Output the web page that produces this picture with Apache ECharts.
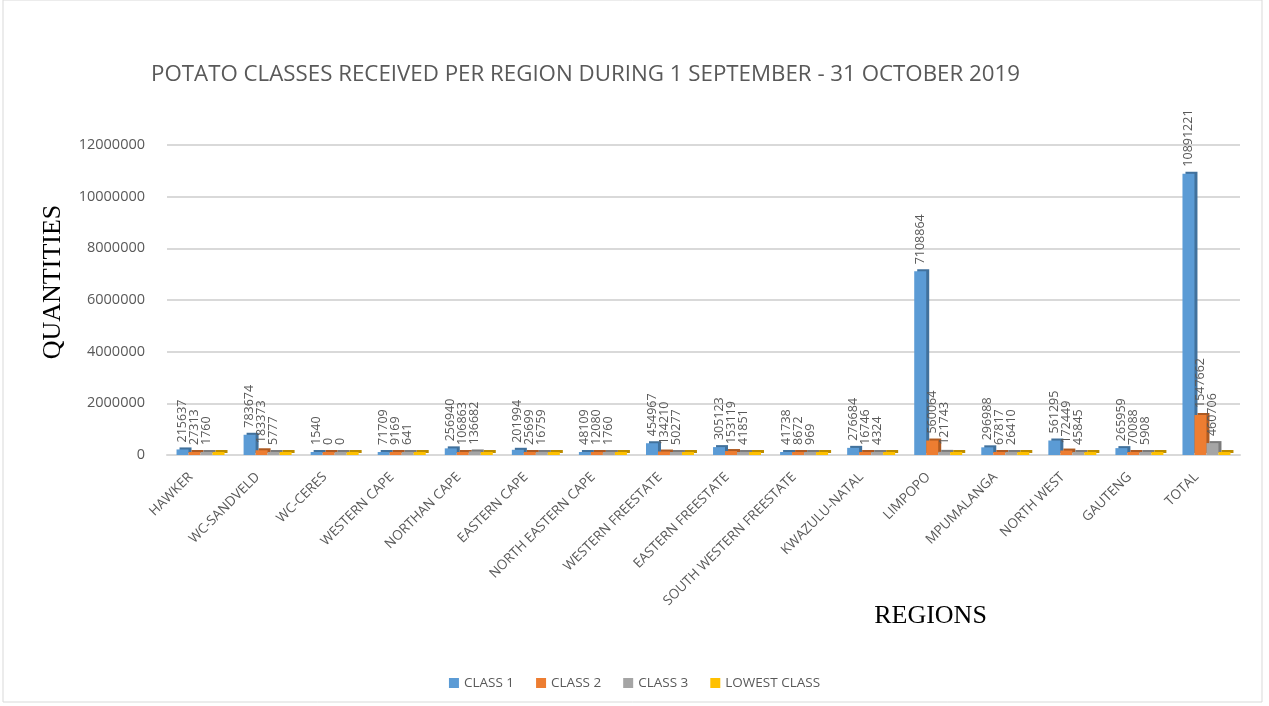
<!DOCTYPE html>
<html>
<head>
<meta charset="utf-8">
<script src="https://cdn.jsdelivr.net/npm/echarts@6/dist/echarts.min.js"></script>
<style>
  html, body { margin: 0; padding: 0; background: #fff; }
  #main { width: 1269px; height: 706px; }
</style>
</head>
<body>
<div id="main"></div>
<script>
const regions = ['HAWKER', 'WC-SANDVELD', 'WC-CERES', 'WESTERN CAPE', 'NORTHAN CAPE', 'EASTERN CAPE',
  'NORTH EASTERN CAPE', 'WESTERN FREESTATE', 'EASTERN FREESTATE', 'SOUTH WESTERN FREESTATE',
  'KWAZULU-NATAL', 'LIMPOPO', 'MPUMALANGA', 'NORTH WEST', 'GAUTENG', 'TOTAL'];
const class1 = [215637, 783674, 1540, 71709, 256940, 201994, 48109, 454967, 305123, 41738, 276684, 7108864, 296988, 561295, 265959, 10891221];
const class2 = [27313, 183373, 0, 9169, 106863, 25699, 12080, 134210, 153119, 8672, 16746, 560064, 67817, 172449, 70088, 1547662];
const class3 = [1760, 5777, 0, 641, 136682, 16759, 1760, 50277, 41851, 969, 4324, 121743, 26410, 45845, 5908, 460706];
// lowest class has no labels in the source, bars are only floor slabs
const lowest = [0, 0, 0, 0, 0, 0, 0, 0, 0, 0, 0, 0, 0, 0, 0, 0];

const chart = echarts.init(document.getElementById('main'));

function barSeries(name, data, color, dark, showLabel) {
  return {
    name: name,
    type: 'bar',
    data: data,
    barWidth: 12,
    barGap: '0%',
    barMinHeight: 3,
    itemStyle: {
      color: color,
      shadowColor: dark,
      shadowOffsetX: 3,
      shadowOffsetY: -2,
      shadowBlur: 0
    },
    label: {
      show: showLabel,
      position: 'top',
      rotate: 90,
      align: 'left',
      verticalAlign: 'middle',
      distance: 7,
      color: '#595959',
      fontSize: 12.5,
      fontFamily: 'Open Sans'
    }
  };
}

const option = {
  animation: false,
  backgroundColor: '#fff',
  graphic: [{
    type: 'rect',
    shape: { x: 3, y: 0, width: 1259, height: 702 },
    style: { fill: 'none', stroke: '#d9d9d9', lineWidth: 1 }
  }],
  title: {
    text: 'POTATO CLASSES RECEIVED PER REGION DURING 1 SEPTEMBER - 31 OCTOBER 2019',
    left: 146,
    top: 59,
    textStyle: { color: '#595959', fontSize: 22.3, fontWeight: 'normal', fontFamily: 'Open Sans' }
  },
  legend: {
    bottom: 11,
    left: 'center',
    itemWidth: 10,
    itemHeight: 10,
    itemGap: 22,
    icon: 'rect',
    textStyle: { color: '#595959', fontSize: 13.5, fontFamily: 'Open Sans' }
  },
  grid: { left: 167, right: 29, top: 145, bottom: 251 },
  xAxis: {
    type: 'category',
    data: regions,
    name: 'REGIONS',
    nameLocation: 'middle',
    nameGap: 148,
    nameMoveOverlap: false,
    nameTextStyle: { color: '#000', fontSize: 26, fontFamily: 'Liberation Serif', padding: [0, 0, 0, 454] },
    axisLine: { lineStyle: { color: '#d9d9d9', width: 2 } },
    axisTick: { show: false },
    axisLabel: {
      rotate: 45,
      interval: 0,
      color: '#595959',
      fontSize: 13.5,
      fontFamily: 'Open Sans',
      margin: 10,
      padding: [0, 14, 0, 0]
    }
  },
  yAxis: {
    type: 'value',
    min: 0,
    max: 12000000,
    interval: 2000000,
    name: 'QUANTITIES',
    nameLocation: 'middle',
    nameGap: 101,
    nameRotate: 90,
    nameTextStyle: { color: '#000', fontSize: 26, fontFamily: 'Liberation Serif', padding: [0, 0, 0, 36] },
    axisLine: { show: false },
    axisTick: { show: false },
    axisLabel: {
      color: '#595959',
      fontSize: 14.5,
      fontFamily: 'Open Sans',
      margin: 22,
      formatter: function (v) { return String(v); }
    },
    splitLine: { lineStyle: { color: '#d9d9d9', width: 2 } }
  },
  series: [
    barSeries('CLASS 1', class1, '#5B9BD5', '#41719C', true),
    barSeries('CLASS 2', class2, '#ED7D31', '#AE5A21', true),
    barSeries('CLASS 3', class3, '#A5A5A5', '#7B7B7B', true),
    barSeries('LOWEST CLASS', lowest, '#FFC000', '#BC8C00', false)
  ]
};

chart.setOption(option);
</script>
</body>
</html>
